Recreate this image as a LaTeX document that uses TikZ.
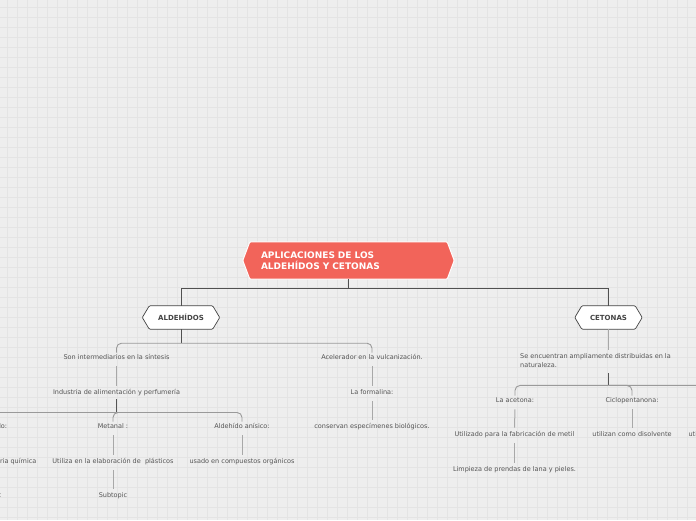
\documentclass[tikz,border=0pt]{standalone}
\usepackage{fontspec}
\setmainfont{DejaVu Sans}
\definecolor{bgc}{HTML}{EEEEEE}
\definecolor{gridc}{HTML}{E4E4E4}
\definecolor{titlec}{HTML}{F2645A}
\definecolor{mainc}{HTML}{505050}
\definecolor{stemc}{HTML}{555555}
\definecolor{busc}{HTML}{9A9A9A}
\definecolor{linkc}{HTML}{A8A8A8}
\definecolor{txtc}{HTML}{555555}
\definecolor{hexc}{HTML}{444444}
\newcommand\hexpath[2]{(#1.north west) -- ([xshift=-#2pt]#1.west) -- (#1.south west) -- (#1.south east) -- ([xshift=#2pt]#1.east) -- (#1.north east) -- cycle}
\begin{document}
\begin{tikzpicture}[x=1pt,y=-1pt,
  gridl/.style={draw=gridc,line width=0.6pt},
  titlebox/.style={rectangle,minimum width=197,minimum height=37,text width=175,align=left,inner xsep=11pt,font=\fontsize{9}{11}\selectfont\bfseries,text=white},
  hexbox/.style={rectangle,minimum height=23,inner sep=0pt,font=\fontsize{7}{8}\selectfont\bfseries,text=hexc},
  hexline/.style={draw=hexc,fill=white,line width=0.7pt,rounded corners=1pt},
  lbl/.style={font=\fontsize{6.5}{8.5}\selectfont,text=txtc,inner sep=2pt,text height=5pt,text depth=1.5pt,yshift=-2pt},
  mainl/.style={draw=mainc,line width=0.9pt},
  steml/.style={draw=stemc,line width=1.1pt},
  busl/.style={draw=busc,line width=0.9pt,rounded corners=5pt},
  linkl/.style={draw=linkc,line width=1pt,shorten <=3pt,shorten >=2pt}]
\useasboundingbox (0,0) rectangle (696,520);
\clip (0,0) rectangle (696,520);
\fill[bgc] (0,0) rectangle (696,520);
\foreach \i in {7,17,...,697} {\draw[gridl] (\i,0) -- (\i,520);}
\foreach \j in {7,17,...,517} {\draw[gridl] (0,\j) -- (696,\j);}

% central topic
\node[titlebox] (title) at (348.5,260.5) {};
\fill[titlec,draw=white,line width=1pt,rounded corners=1pt] \hexpath{title}{7};
\node[titlebox] at (348.5,261) {APLICACIONES DE LOS\\ALDEHÍDOS Y CETONAS};

% main topics
\node[hexbox,minimum width=63] (ald) at (181,317.5) {};
\node[hexbox,minimum width=53] (cet) at (608.5,317.5) {};
\draw[hexline] \hexpath{ald}{7};
\draw[hexline] \hexpath{cet}{7};
\node[hexbox] at (ald) {ALDEHÍDOS};
\node[hexbox] at (cet) {CETONAS};

\draw[mainl] (title.south) -- ++(0,9) -| (ald.north);
\draw[mainl] (title.south) -- ++(0,9) -| (cet.north);

% ALDEHIDOS branch
\node[lbl] (son) at (116.5,356) {Son intermediarios en la síntesis};
\node[lbl] (acel) at (372,356) {Acelerador en la vulcanización.};
\node[lbl] (ind) at (116.5,391) {Industria de alimentación y perfumería};
\node[lbl] (form) at (372,391) {La formalina:};
\node[lbl] (cons) at (372,425) {conservan especímenes biológicos.};
\node[lbl] (benz) at (-16,425) {Benzaldehído:};
\node[lbl] (met) at (113,425) {Metanal :};
\node[lbl] (anis) at (242,425) {Aldehído anísico:};
\node[lbl] (quim) at (-16,460) {Utilizado en la industria química};
\node[lbl] (plas) at (113,460) {Utiliza en la elaboración de\ \ plásticos};
\node[lbl] (org) at (242,460) {usado en compuestos orgánicos};
\node[lbl] (subA) at (-13,494) {Subtopic};
\node[lbl] (subB) at (113,494) {Subtopic};

\path (ald.south) ++(0,14) coordinate (abus);
\draw[mainl] (ald.south) -- (abus);
\draw[busl] (abus) -| (son.north);
\draw[busl] (abus) -| (acel.north);
\draw[linkl] (son.south) -- (ind.north);
\draw[linkl] (acel.south) -- (form.north);
\draw[linkl] (form.south) -- (cons.north);

\path (ind.south) ++(0,14) coordinate (ibus);
\draw[steml] ([yshift=-1pt]ind.south) -- (ibus);
\draw[busl] (ibus) -| (benz.north);
\draw[busl] (ibus) -| (met.north);
\draw[busl] (ibus) -| (anis.north);
\draw[linkl] (benz.south) -- (quim.north);
\draw[linkl] (quim.south) -- (subA.north);
\draw[linkl] (met.south) -- (plas.north);
\draw[linkl] (plas.south) -- (subB.north);
\draw[linkl] (anis.south) -- (org.north);

% CETONAS branch
\node[font=\fontsize{6.5}{8.5}\selectfont,text=txtc,inner sep=2pt,align=left,anchor=north west] (dist) at (518,351.5) {Se encuentran ampliamente distribuidas en la\\naturaleza.};
\node[lbl] (acet) at (515,399) {La acetona:};
\node[lbl] (ciclo) at (632,399) {Ciclopentanona:};
\node[lbl] (benzo) at (735,399) {Benzofenona:};
\node[lbl] (metil) at (514.5,433) {Utilizado para la fabricación de metil};
\node[lbl] (disol) at (632,433) {utilizan como disolvente};
\node[lbl] (util) at (735,433) {utilizada como aromatizante};
\node[lbl] (limp) at (514.5,468) {Limpieza de prendas de lana y pieles.};

\draw[linkl,shorten <=0pt,shorten >=2pt] (cet.south) -- (cet.south |- dist.north);
\path (dist.south -| cet.south) coordinate (ds) ++(0,16) coordinate (cbus);
\draw[steml] ([yshift=-4pt]ds) -- (cbus);
\draw[busl] (cbus) -| (acet.north);
\draw[busl] (cbus) -| (ciclo.north);
\draw[busl] (cbus) -| (benzo.north);
\draw[linkl] (acet.south) -- (metil.north);
\draw[linkl] (metil.south) -- (limp.north);
\draw[linkl] (ciclo.south) -- (disol.north);
\draw[linkl] (benzo.south) -- (util.north);
\end{tikzpicture}
\end{document}
